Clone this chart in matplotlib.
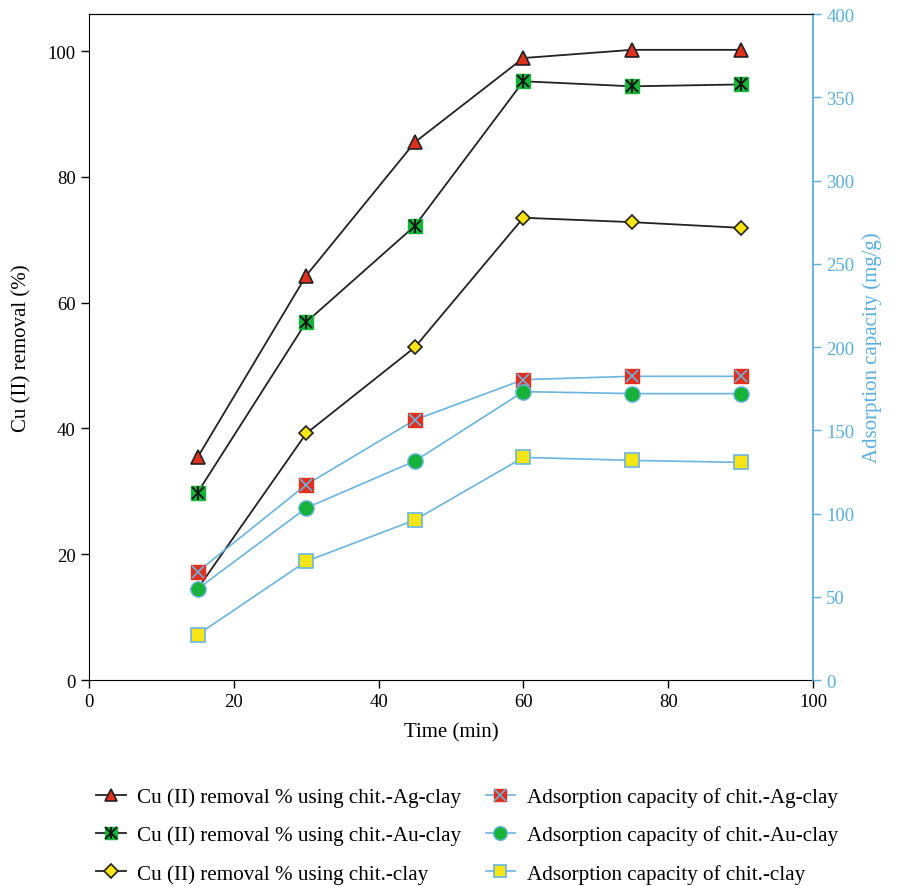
import numpy as np
import matplotlib.pyplot as plt
from matplotlib.legend_handler import HandlerTuple

plt.rcParams['font.family'] = ['Liberation Serif', 'DejaVu Serif']

# %% data
time_min = [15, 30, 45, 60, 75, 90]

removal_ag = [35.4, 64.3, 85.5, 98.9, 100.2, 100.2]   # Cu (II) removal %, chit.-Ag-clay
removal_au = [29.8, 56.9, 72.2, 95.2, 94.4, 94.7]     # chit.-Au-clay
removal_clay = [14.5, 39.2, 52.9, 73.5, 72.8, 71.9]   # chit.-clay

qe_ag = [65.0, 117.3, 156.2, 180.4, 182.4, 182.4]     # adsorption capacity mg/g
qe_au = [54.7, 103.3, 131.5, 173.2, 172.0, 172.0]
qe_clay = [27.2, 71.3, 96.1, 133.7, 131.9, 130.7]

red = '#e0301e'
green = '#16b23a'
yellow = '#f7e414'
blue = '#6ab4e0'
axis_blue = '#5aaede'

# %% plotting
fig = plt.figure(figsize=(8.97, 8.87), dpi=100)
ax = fig.add_axes([89/897, 1-681/887, (813-89)/897, (681-15)/887])
ax2 = ax.twinx()

ms = 10
r1, = ax.plot(time_min, removal_ag, color='#222222', lw=1.3, marker='^', ms=ms, mfc=red, mec='#222222', mew=1.2, zorder=4)
r2, = ax.plot(time_min, removal_au, color='#222222', lw=1.3, marker='s', ms=ms, mfc=green, mec=green, zorder=4)
r2x, = ax.plot(time_min, removal_au, ls='none', marker='x', ms=ms-1, mec='#111111', mew=1.3, zorder=5)
r2v, = ax.plot(time_min, removal_au, ls='none', marker='|', ms=ms, mec='#111111', mew=1.3, zorder=5)
r3, = ax.plot(time_min, removal_clay, color='#222222', lw=1.3, marker='D', ms=ms-2.5, mfc=yellow, mec='#222222', mew=1.2, zorder=4)

# adsorption capacity on the right axis (drawn on top, the circle hides the first diamond)
a1, = ax2.plot(time_min, qe_ag, color=blue, lw=1.2, marker='s', ms=ms, mfc=red, mec=red, zorder=2)
a1x, = ax2.plot(time_min, qe_ag, ls='none', marker='x', ms=ms-1, mec=blue, mew=1.2, zorder=3)
a2, = ax2.plot(time_min, qe_au, color=blue, lw=1.2, marker='o', ms=ms+1, mfc=green, mec=blue, mew=1.0, zorder=2)
a3, = ax2.plot(time_min, qe_clay, color=blue, lw=1.2, marker='s', ms=ms, mfc=yellow, mec=blue, mew=1.2, zorder=2)

ax.set_xlim(0, 100)
ax.set_ylim(0, 105.9)
ax2.set_ylim(0, 400)
ax.set_xticks(np.arange(0, 101, 20))
ax.set_yticks(np.arange(0, 101, 20))
ax2.set_yticks(np.arange(0, 401, 50))

ax.tick_params(direction='out', length=6, labelsize=13.5, width=1)
ax2.tick_params(direction='out', length=6, labelsize=13.5, width=1, colors=axis_blue)
ax2.spines['right'].set_color(axis_blue)
ax2.spines['right'].set_linewidth(1.3)
ax2.spines['left'].set_visible(False)
ax2.spines['bottom'].set_visible(False)
ax.spines['right'].set_visible(False)

ax.set_xlabel('Time (min)', fontsize=15, labelpad=9)
ax.set_ylabel('Cu (II) removal (%)', fontsize=15, labelpad=12)
ax2.set_ylabel('Adsorption capacity (mg/g)', fontsize=15, color=axis_blue, labelpad=6)

handles = [r1, (r2, r2x, r2v), r3, (a1, a1x), a2, a3]
labels = ['Cu (II) removal % using chit.-Ag-clay',
          'Cu (II) removal % using chit.-Au-clay',
          'Cu (II) removal % using chit.-clay',
          'Adsorption capacity of chit.-Ag-clay',
          'Adsorption capacity of chit.-Au-clay',
          'Adsorption capacity of chit.-clay']
fig.legend(handles, labels, loc='upper left', bbox_to_anchor=(77/897, 1-769/887),
           ncol=2, frameon=False, fontsize=15.2, handlelength=1.4, handletextpad=0.55,
           columnspacing=1.15, labelspacing=0.88, markerscale=0.9,
           handler_map={tuple: HandlerTuple(ndivide=1)})

fig.savefig('out.png', dpi=100)
